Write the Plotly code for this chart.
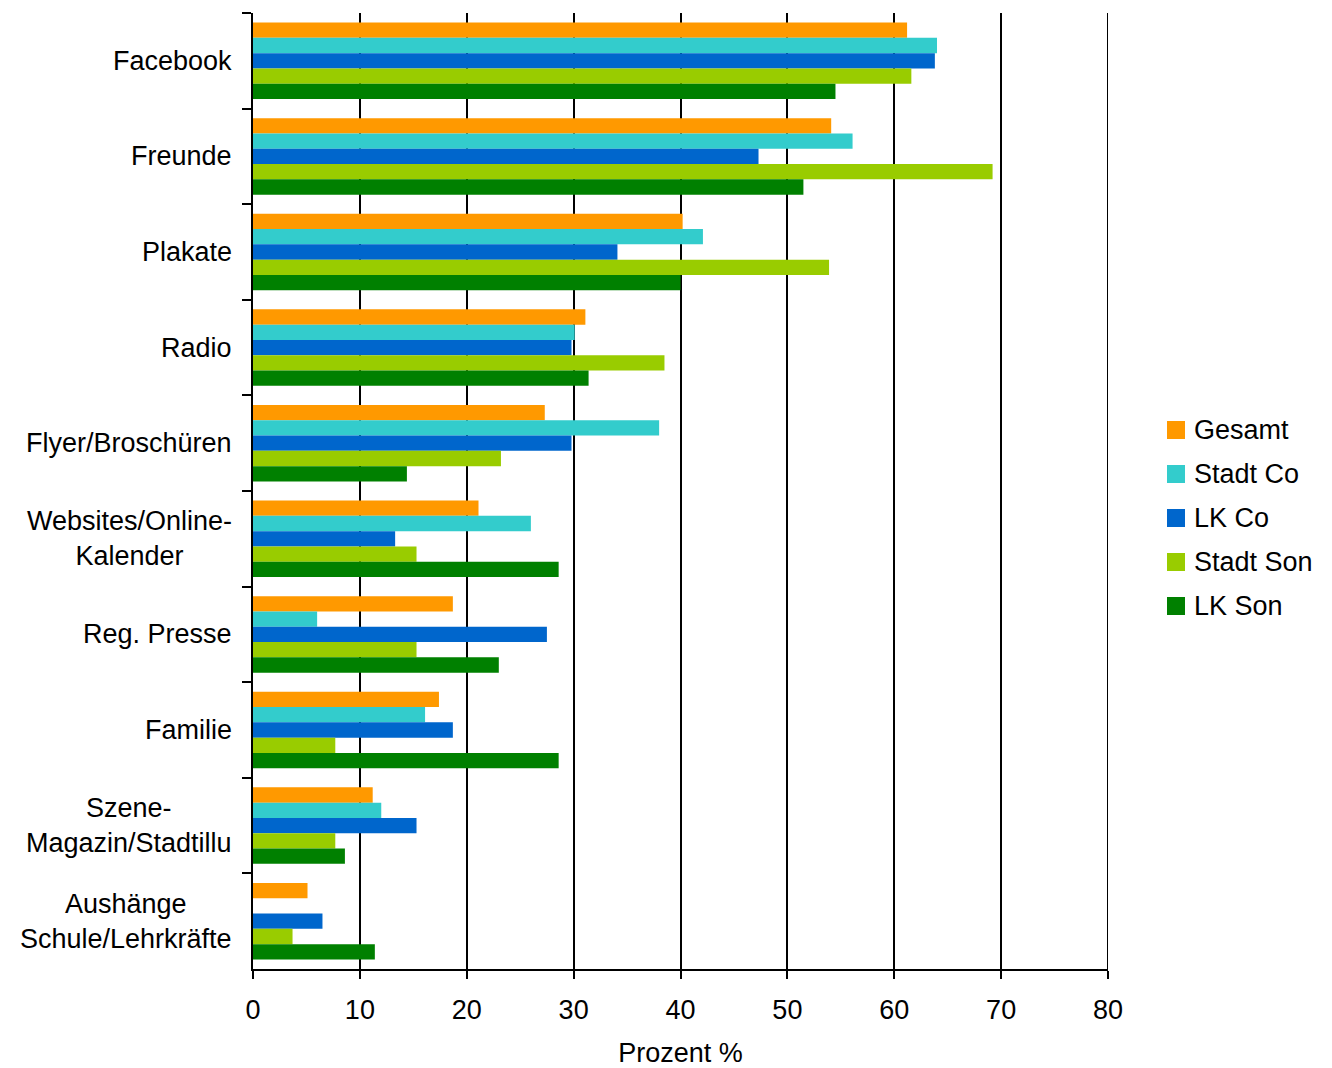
import plotly.graph_objects as go

categories = ["Facebook", "Freunde", "Plakate", "Radio", "Flyer/Broschüren",
              "Websites/Online-<br>Kalender", "Reg. Presse", "Familie",
              "Szene-<br>Magazin/Stadtillu", "Aushänge<br>Schule/Lehrkräfte"]

series_names = ["Gesamt", "Stadt Co", "LK Co", "Stadt Son", "LK Son"]

gesamt    = [61.2, 54.1, 40.2, 31.1, 27.3, 21.1, 18.7, 17.4, 11.2, 5.1]
stadt_co  = [64.0, 56.1, 42.1, 30.1, 38.0, 26.0, 6.0, 16.1, 12.0, 0.0]
lk_co     = [63.8, 47.3, 34.1, 29.8, 29.8, 13.3, 27.5, 18.7, 15.3, 6.5]
stadt_son = [61.6, 69.2, 53.9, 38.5, 23.2, 15.3, 15.3, 7.7, 7.7, 3.7]
lk_son    = [54.5, 51.5, 40.0, 31.4, 14.4, 28.6, 23.0, 28.6, 8.6, 11.4]

series_values = [gesamt, stadt_co, lk_co, stadt_son, lk_son]
colors = ["#FF9900", "#33CCCC", "#0066CC", "#99CC00", "#008000"]

x_ticks = [0, 10, 20, 30, 40, 50, 60, 70, 80]

FONT = "Liberation Sans, Arial, sans-serif"
FS = 27

fig = go.Figure()
for name, vals, col in zip(series_names, series_values, colors):
    fig.add_trace(go.Bar(y=categories, x=vals, name=name, orientation="h",
                         marker=dict(color=col, line=dict(width=0)),
                         showlegend=False))

W, H = 1332, 1068
L, R, T, B = 253, 224, 13, 99
pw = W - L - R
ph = H - T - B

annotations = []
for c in categories:
    annotations.append(dict(text=c, x=0, xref="paper", y=c, yref="y",
                            xanchor="right", yanchor="middle", xshift=-19,
                            align="center", showarrow=False,
                            font=dict(family=FONT, size=FS, color="black")))

shapes = []
# gridline at the right edge (x = 80)
shapes.append(dict(type="line", xref="x", yref="paper", x0=x_ticks[-1], x1=x_ticks[-1],
                   y0=0, y1=1, line=dict(color="black", width=2), layer="above"))

leg_y0 = 430
for i, (name, col) in enumerate(zip(series_names, colors)):
    cy = leg_y0 + i * 44
    x0 = (1167 - L) / pw
    x1 = (1185 - L) / pw
    y0 = (H - B - (cy - 9)) / ph
    y1 = (H - B - (cy + 9)) / ph
    shapes.append(dict(type="rect", xref="paper", yref="paper",
                       x0=x0, x1=x1, y0=y1, y1=y0,
                       fillcolor=col, line=dict(width=0)))
    annotations.append(dict(text=name, xref="paper", yref="paper",
                            x=(1192 - L) / pw, y=(H - B - cy) / ph,
                            xanchor="left", yanchor="middle", showarrow=False,
                            font=dict(family=FONT, size=FS, color="black")))

fig.update_layout(
    width=W, height=H,
    margin=dict(l=L, r=R, t=T, b=B, pad=0, autoexpand=False),
    paper_bgcolor="white", plot_bgcolor="white",
    barmode="group", bargap=0.2, bargroupgap=0,
    font=dict(family=FONT, size=FS, color="black"),
    xaxis=dict(range=[0, 80], tickvals=x_ticks, showgrid=True,
               gridcolor="black", gridwidth=2, zeroline=False,
               showline=True, linecolor="black", linewidth=2,
               ticks="outside", ticklen=8, tickwidth=2, tickcolor="black",
               ticklabelstandoff=8, automargin=False,
               tickfont=dict(family=FONT, size=FS, color="black"),
               title=dict(text="Prozent %", standoff=25,
                          font=dict(family=FONT, size=FS, color="black"))),
    yaxis=dict(autorange="reversed", showticklabels=False, showgrid=False,
               showline=True, linecolor="black", linewidth=2,
               ticks="outside", ticklen=9, tickwidth=2, tickcolor="black",
               tickson="boundaries", zeroline=False, automargin=False),
    annotations=annotations, shapes=shapes,
)

fig.write_html("out.html")
